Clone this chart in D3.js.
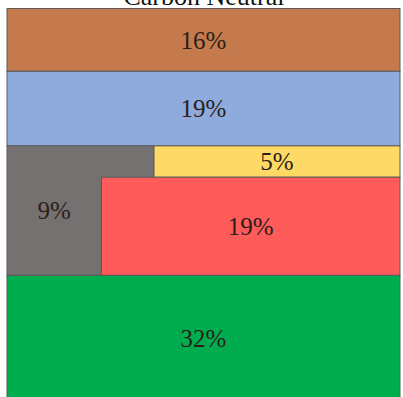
<!DOCTYPE html>
<html>
<head>
<meta charset="utf-8">
<script src="https://cdn.jsdelivr.net/npm/d3@7"></script>
<style>
  body { margin: 0; background: #fff; }
  svg { display: block; }
</style>
</head>
<body>
<svg width="403" height="397"></svg>
<script>
// rows from top to bottom, values in percent
var rowNames = ["brown", "blue", "mixed", "green"];
var rowValues = [16, 19, 33, 32];
var rowColors = ["#C47A4C", "#8FAADC", null, "#00AD4E"];

// the mixed row is split in three pieces
var subNames = ["gray", "yellow", "red"];
var subValues = [9, 5, 19];
var subColors = ["#767171", "#FFD966", "#FF5B5B"];
var grayTopShare = 0.374; // part of the mixed row's top line kept by gray

var title = "Carbon Neutral";

var svg = d3.select("svg"),
    width = +svg.attr("width"),
    height = +svg.attr("height");

var x = d3.scaleLinear().domain([0, 1]).range([7, 400]);
var y = d3.scaleLinear().domain([0, 100]).range([8.5, 401]);

var stroke = "#5a5a5a";
var font = "'Liberation Serif', 'DejaVu Serif', serif";

svg.append("text")
    .attr("x", 204)
    .attr("y", 5)
    .attr("text-anchor", "middle")
    .style("font-family", font)
    .style("font-size", "26px")
    .attr("fill", "#111")
    .text(title);

var cum = d3.cumsum(rowValues);
var rows = rowValues.map(function(v, i) {
  return { name: rowNames[i], value: v, y0: cum[i] - v, y1: cum[i], color: rowColors[i] };
});

var cells = [];
rows.forEach(function(r) {
  if (r.color) {
    cells.push({ x0: 0, x1: 1, y0: r.y0, y1: r.y1, color: r.color, value: r.value });
  }
});

// build the mixed row from the sub values
var mixed = rows[2];
var band = mixed.y1 - mixed.y0;
var yellowW = 1 - grayTopShare;
var yellowH = (subValues[1] / mixed.value) / yellowW;  // share of band height
var redW = (subValues[2] / mixed.value) / (1 - yellowH);
var yMid = mixed.y0 + yellowH * band;

var gray = { x0: 0, x1: grayTopShare, y0: mixed.y0, y1: mixed.y1, color: subColors[0], value: subValues[0],
             lx: (1 - redW) / 2, ly: (mixed.y0 + mixed.y1) / 2 };
var yellow = { x0: grayTopShare, x1: 1, y0: mixed.y0, y1: yMid, color: subColors[1], value: subValues[1] };
var red = { x0: 1 - redW, x1: 1, y0: yMid, y1: mixed.y1, color: subColors[2], value: subValues[2] };
cells.splice(2, 0, gray, yellow, red);

svg.selectAll("rect.cell")
  .data(cells)
  .enter().append("rect")
    .attr("class", "cell")
    .attr("x", function(d) { return x(d.x0); })
    .attr("y", function(d) { return y(d.y0); })
    .attr("width", function(d) { return x(d.x1) - x(d.x0); })
    .attr("height", function(d) { return y(d.y1) - y(d.y0); })
    .attr("fill", function(d) { return d.color; })
    .attr("stroke", stroke)
    .attr("stroke-width", 1);

svg.selectAll("text.lbl")
  .data(cells)
  .enter().append("text")
    .attr("class", "lbl")
    .attr("x", function(d) { return x(d.lx != null ? d.lx : (d.x0 + d.x1) / 2); })
    .attr("y", function(d) { return y(d.ly != null ? d.ly : (d.y0 + d.y1) / 2); })
    .attr("dy", "0.35em")
    .attr("text-anchor", "middle")
    .style("font-family", font)
    .style("font-size", "25px")
    .attr("fill", "#2a1f1a")
    .text(function(d) { return d.value + "%"; });
</script>
</body>
</html>
